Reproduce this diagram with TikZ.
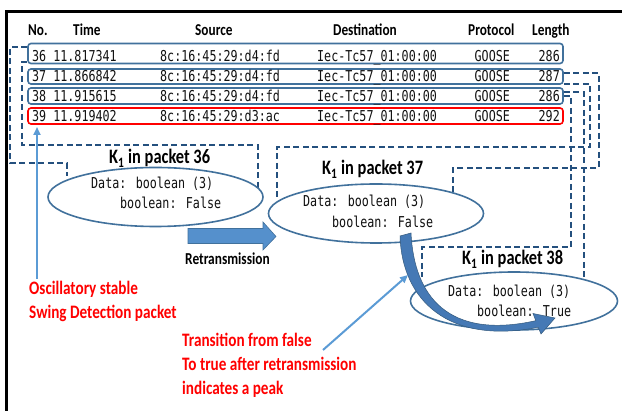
\documentclass[tikz,border=0pt]{standalone}
\usepackage{fontspec}
\setmainfont{Carlito}
\newfontfamily\hdr[FakeStretch=0.8]{Carlito}
\newfontfamily\mono[FakeStretch=0.78]{DejaVu Sans Mono}
\usetikzlibrary{arrows.meta,shapes.geometric,calc}
\definecolor{boxblue}{HTML}{41719C}
\definecolor{dashblue}{HTML}{24507E}
\definecolor{lightblue}{HTML}{5B9BD5}
\definecolor{arrowfill}{HTML}{5590CC}
\definecolor{curvefill}{HTML}{4579B5}
\definecolor{txt}{HTML}{111111}
\begin{document}
\begin{tikzpicture}[x=1pt,y=-1pt,
 rowbox/.style={draw=boxblue,line width=1.6pt,rounded corners=3pt,minimum width=535pt,inner sep=0pt},
 redbox/.style={rowbox,draw=red},
 hd/.style={anchor=base west,inner sep=0pt,font=\hdr\bfseries\fontsize{16.6}{18}\selectfont,text=black},
 mt/.style={anchor=base west,inner sep=0pt,font=\mono\fontsize{15}{16}\selectfont,text=txt},
 ttl/.style={anchor=base west,inner sep=0pt,font=\hdr\bfseries\fontsize{20.5}{22}\selectfont,text=black},
 redtxt/.style={anchor=base west,inner sep=0pt,font=\hdr\bfseries\fontsize{19}{20}\selectfont,text=red},
 kell/.style={ellipse,draw=boxblue,line width=1.6pt,inner sep=0pt,minimum width=215pt,minimum height=59pt},
 dsh/.style={draw=dashblue,line width=1.8pt,dash pattern=on 6pt off 3.5pt},
 thinarr/.style={draw=lightblue,line width=2pt,-{Triangle[length=8pt,width=7pt]}},
]
\fill[white] (0,0) rectangle (622,411);
\useasboundingbox (0,0) rectangle (622,411);
% frame
\draw[line width=3pt] (6,411) -- (6,11.5) -- (622,11.5);
% header
\node[hd] (hno) at (28,36) {No.};
\node[hd] (htime) at (73,36) {Time};
\node[hd] (hsrc) at (195,36) {Source};
\node[hd] (hdst) at (333,36) {Destination};
\node[hd] (hpro) at (468,36) {Protocol};
\node[hd] (hlen) at (532,36) {Length};
% row boxes
\node[rowbox,minimum height=20pt] (r36) at (295.5,53.5) {};
\node[rowbox,minimum height=15pt] (r37) at (295.5,76.5) {};
\node[rowbox,minimum height=16pt] (r38) at (295.5,96) {};
\node[redbox,minimum height=16pt] (r39) at (295.5,116) {};
% row texts
\foreach \y/\n/\t/\s/\l in {62/36/11.817341/8c:16:45:29:d4:fd/286,
  82/37/11.866842/8c:16:45:29:d4:fd/287,
  102/38/11.915615/8c:16:45:29:d4:fd/286,
  122/39/11.919402/8c:16:45:29:d3:ac/292}{
  \node[mt] (no\n) at (32,\y) {\n\ \t};
  \node[mt] (src\n) at (160,\y) {\s};
  \node[mt] (dst\n) at (317,\y) {Iec-Tc57\_01:00:00};
  \node[mt] (pro\n) at (474.5,\y) {GOOSE};
  \node[mt] (len\n) at (538.5,\y) {\l};
}
% dashed connectors
\draw[dsh] ([yshift=6.5pt]r36.west) -- (10,47) -- (10,163) -- (67,163) -- (67,176);
\draw[dsh] ([yshift=-8.5pt]r36.west) -- (22,62) -- (22,145) -- (258,145) -- (258,191);
\draw[dsh] ([yshift=3.5pt]r37.east) -- (599,73) -- (599,168) -- (453,168) -- (453,194);
\draw[dsh] ([yshift=-7.5pt]r37.east) -- (590,84) -- (590,147) -- (277,147) -- (277,197);
\draw[dsh] ([yshift=4pt]r38.east) -- (584,92) -- (584,277);
\draw[dsh] (r38.east) -- (571,96) -- (571,247) -- (422,247) -- (422,277);
% ellipses
\node[kell] (e36) at (155.5,197) {};
\node[kell] (e37) at (376,213.5) {};
\node[kell,minimum width=207pt,minimum height=58pt] (e38) at (514,301) {};
\node[mt] (d36) at (91,189) {Data: boolean (3)};
\node[mt] (b36) at (120,209) {boolean: False};
\node[mt] (d37) at (303,207) {Data: boolean (3)};
\node[mt] (b37) at (332,227.5) {boolean: False};
\node[mt] (d38) at (448,297) {Data: boolean (3)};
\node[mt] (b38) at (477,316.5) {boolean: True};
% titles
\node[ttl] (k36) at (109,164) {K\textsubscript{1} in packet 36};
\node[ttl] (k37) at (322,175) {K\textsubscript{1} in packet 37};
\node[ttl] (k38) at (462,265) {K\textsubscript{1} in packet 38};
% retransmission block arrow
\filldraw[fill=arrowfill,draw=boxblue,line width=0.6pt] (188,228.5) -- (263,228.5) -- (263,222) -- (276,236.5) -- (263,250) -- (263,243.5) -- (188,243.5) -- cycle;
\node[hd,font=\hdr\bfseries\fontsize{16.7}{18}\selectfont] (retx) at (185,265) {Retransmission};
% curved arrow
\filldraw[fill=curvefill,draw=boxblue!80!black,line width=0.5pt]
  (400,236) .. controls (402,300) and (448,345) .. (538.2,327.3)
  -- (541,334) -- (555,318) -- (533,313.5) -- (535.8,320.7)
  .. controls (448,340) and (414,296) .. (411,233) -- cycle;
% red texts
\node[redtxt] (osc1) at (29,295) {Oscillatory stable};
\node[redtxt] (osc2) at (29,318.5) {Swing Detection packet};
\node[redtxt] (tr1) at (182,346.5) {Transition from false};
\node[redtxt] (tr2) at (182,370.5) {To true after retransmission};
\node[redtxt] (tr3) at (182,394.5) {indicates a peak};
% thin arrows
\coordinate (oscstart) at (37,279);
\coordinate (oscend) at (37,127);
\draw[thinarr] (oscstart) -- (oscend);
\coordinate (trstart) at (323,350);
\coordinate (trend) at (408,275);
\draw[thinarr] (trstart) -- (trend);
\end{tikzpicture}
\end{document}
